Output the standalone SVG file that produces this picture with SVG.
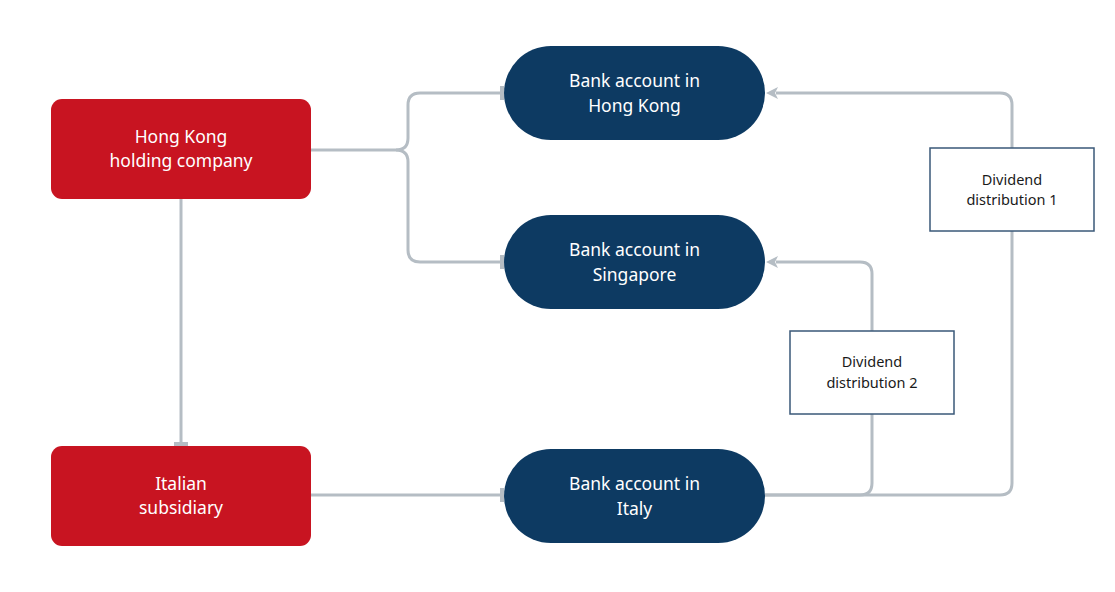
<svg xmlns="http://www.w3.org/2000/svg" width="1115" height="592" viewBox="0 0 1115 592">
<style>
.red{fill:#c81421}
.navy{fill:#0d3a62}
.lbl{font-family:"Noto Sans","Open Sans",sans-serif;font-size:17.5px;fill:#ffffff;text-anchor:middle}
.box{fill:#ffffff;stroke:#3a5878;stroke-width:1.5}
.dl{font-family:"Noto Sans","Open Sans",sans-serif;font-size:14.5px;fill:#1a1a1a;text-anchor:middle}
.c{fill:none;stroke:#b5bdc4;stroke-width:3}
</style>
<defs>
<marker id="bar" viewBox="0 0 4 14" refX="2" refY="7" markerWidth="4" markerHeight="14" markerUnits="userSpaceOnUse" orient="auto">
<rect x="0" y="0" width="4" height="14" fill="#b5bdc4"/>
</marker>
<marker id="arr" viewBox="0 0 14 14" refX="2" refY="7" markerWidth="14" markerHeight="14" markerUnits="userSpaceOnUse" orient="auto">
<path d="M12,7 L0,1 L3,7 L0,13 Z" fill="#b5bdc4"/>
</marker>
</defs>
<rect width="1115" height="592" fill="#ffffff"/>
<g id="connectors">
<path class="c" d="M311,150 H396 Q408,150 408,138 V105 Q408,93 420,93 H502" marker-end="url(#bar)"/>
<path class="c" d="M396,150 Q408,150 408,162 V250 Q408,262 420,262 H502" marker-end="url(#bar)"/>
<path class="c" d="M181,199 V444" marker-end="url(#bar)"/>
<path class="c" d="M311,495 H502" marker-end="url(#bar)"/>
<path class="c" d="M765,495 H1000 Q1012,495 1012,483 V105 Q1012,93 1000,93 H776" marker-end="url(#arr)"/>
<path class="c" d="M765,495 H860 Q872,495 872,483 V274 Q872,262 860,262 H776" marker-end="url(#arr)"/>
</g>
<g id="hk-holding">
<rect class="red" x="51" y="99" width="260" height="100" rx="11"/>
<text class="lbl" x="181" y="143">Hong Kong</text>
<text class="lbl" x="181" y="167">holding company</text>
</g>
<g id="italian-sub">
<rect class="red" x="51" y="446" width="260" height="100" rx="11"/>
<text class="lbl" x="181" y="490">Italian</text>
<text class="lbl" x="181" y="514">subsidiary</text>
</g>
<g id="bank-hk">
<rect class="navy" x="504" y="46" width="261" height="94" rx="47"/>
<text class="lbl" x="634.5" y="87">Bank account in</text>
<text class="lbl" x="634.5" y="112">Hong Kong</text>
</g>
<g id="bank-sg">
<rect class="navy" x="504" y="215" width="261" height="94" rx="47"/>
<text class="lbl" x="634.5" y="256">Bank account in</text>
<text class="lbl" x="634.5" y="281">Singapore</text>
</g>
<g id="bank-it">
<rect class="navy" x="504" y="449" width="261" height="94" rx="47"/>
<text class="lbl" x="634.5" y="490">Bank account in</text>
<text class="lbl" x="634.5" y="515">Italy</text>
</g>
<g id="div1">
<rect class="box" x="930" y="148" width="164" height="83"/>
<text class="dl" x="1012" y="185">Dividend</text>
<text class="dl" x="1012" y="205">distribution 1</text>
</g>
<g id="div2">
<rect class="box" x="790" y="331" width="164" height="83"/>
<text class="dl" x="872" y="367">Dividend</text>
<text class="dl" x="872" y="388">distribution 2</text>
</g>
</svg>
